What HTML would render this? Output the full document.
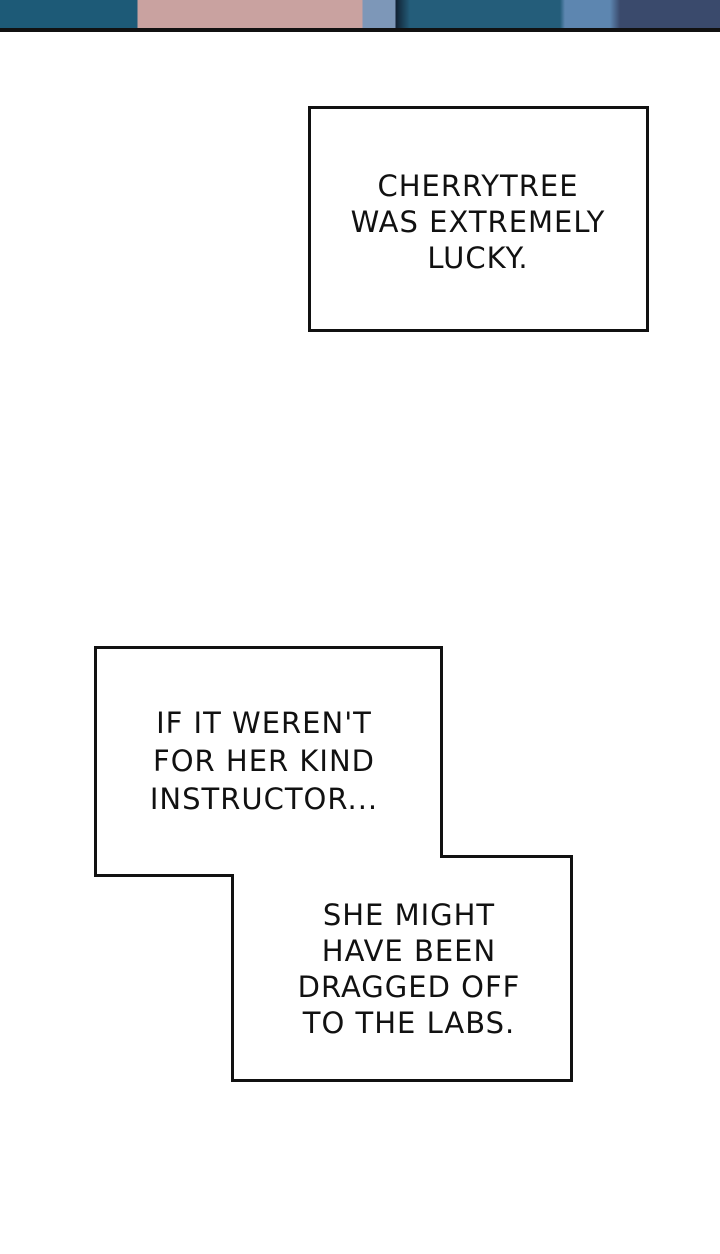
<!DOCTYPE html>
<html><head><style>
body{margin:0;width:720px;height:1254px;background:#fff;overflow:hidden;position:relative;font-family:"DejaVu Sans","Liberation Sans",sans-serif}
.t{position:absolute;text-align:center;font-size:29px;line-height:36px;color:#111;letter-spacing:1px}
</style></head><body>
<div style="position:absolute;left:0;top:0;width:720px;height:29px;background:linear-gradient(90deg,#1d5a77 0,#1d5a77 137px,#c9a2a0 138px,#c9a2a0 362px,#7d97b8 363px,#7d97b8 395px,#123 396px,#245d7a 410px,#245d7a 560px,#5d86b0 565px,#5d86b0 610px,#3a4a6c 620px,#3a4a6c 720px)"></div>
<div style="position:absolute;left:0;top:28px;width:720px;height:4px;background:#111"></div>
<svg width="720" height="1254" style="position:absolute;left:0;top:0">
<rect x="309.5" y="107.5" width="338" height="223" fill="#fff" stroke="#111" stroke-width="3"/>
<polygon points="95.5,647.5 441.5,647.5 441.5,856.5 571.5,856.5 571.5,1080.5 232.5,1080.5 232.5,875.5 95.5,875.5" fill="#fff" stroke="#111" stroke-width="3"/>
</svg>
<div class="t" style="left:299px;width:358px;top:168px">CHERRYTREE<br>WAS EXTREMELY<br>LUCKY.</div>
<div class="t" style="left:114px;width:300px;top:704px;line-height:38px">IF IT WEREN'T<br>FOR HER KIND<br>INSTRUCTOR...</div>
<div class="t" style="left:255px;width:308px;top:897px">SHE MIGHT<br>HAVE BEEN<br>DRAGGED OFF<br>TO THE LABS.</div>
</body></html>
